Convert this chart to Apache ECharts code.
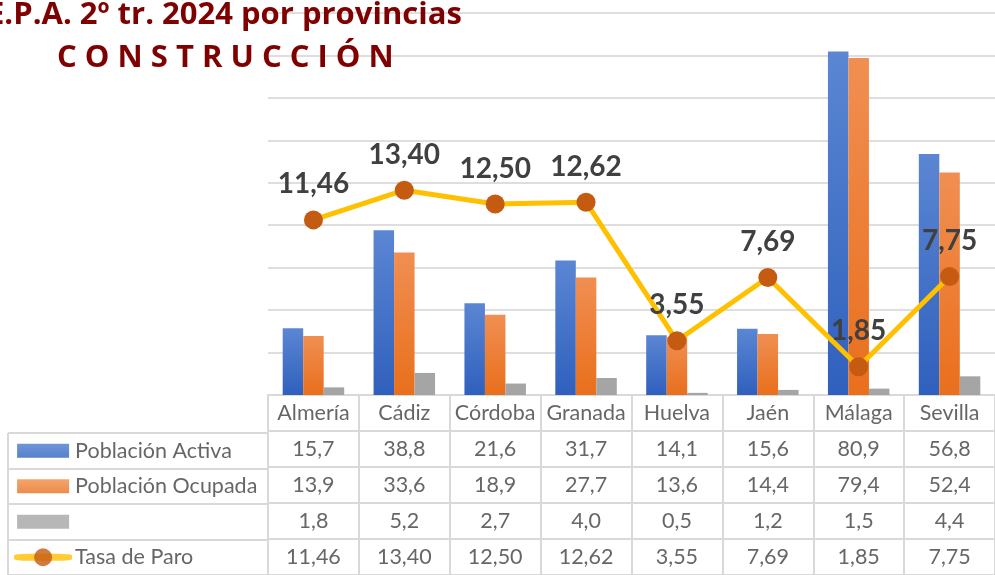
<!DOCTYPE html>
<html>
<head>
<meta charset="utf-8">
<script src="https://cdn.jsdelivr.net/npm/echarts@6/dist/echarts.min.js"></script>
<style>
  * { margin: 0; padding: 0; }
  html, body { background: #fff; }
  #chart-container { width: 995px; height: 575px; overflow: hidden; }
</style>
</head>
<body>
<div id="chart-container"></div>
<script>
  var categories = ['Almería', 'Cádiz', 'Córdoba', 'Granada', 'Huelva', 'Jaén', 'Málaga', 'Sevilla']
  var activa = [15.7, 38.8, 21.6, 31.7, 14.1, 15.6, 80.9, 56.8]
  var ocupada = [13.9, 33.6, 18.9, 27.7, 13.6, 14.4, 79.4, 52.4]
  var parados = [1.8, 5.2, 2.7, 4.0, 0.5, 1.2, 1.5, 4.4]
  var tasa = [11.46, 13.40, 12.50, 12.62, 3.55, 7.69, 1.85, 7.75]
  var rowNames = ['Población Activa', 'Población Ocupada', '', 'Tasa de Paro']

  var font = 'Lato'
  var textColor = '#404040'
  var lineColor = '#d9d9d9'

  function fmt(v, d) {
    return v.toFixed(d).replace('.', ',')
  }

  function grad(top, bottom) {
    return new echarts.graphic.LinearGradient(0, 0, 0, 1, [
      { offset: 0, color: top },
      { offset: 1, color: bottom },
    ])
  }

  // table cells
  var cells = []
  categories.forEach(function (c, i) {
    cells.push({ value: [i, 0.5], name: c })
    cells.push({ value: [i, 1.5], name: fmt(activa[i], 1) })
    cells.push({ value: [i, 2.5], name: fmt(ocupada[i], 1) })
    cells.push({ value: [i, 3.5], name: fmt(parados[i], 1) })
    cells.push({ value: [i, 4.5], name: fmt(tasa[i], 2) })
  })

  var iconX = 0.135
  var legendBoxes = [
    { value: [iconX, 0.5], name: rowNames[0], itemStyle: { color: grad('#4a7bd0', '#2f62bf') } },
    { value: [iconX, 1.5], name: rowNames[1], itemStyle: { color: grad('#f38c46', '#e8701f') } },
    { value: [iconX, 2.5], name: rowNames[2], itemStyle: { color: '#a5a5a5' } },
  ]

  var myChart = echarts.init(document.getElementById('chart-container'), null, { renderer: 'canvas' })

  var option = {
    animation: false,
    title: [
      {
        text: 'E.P.A. 2º tr. 2024 por provincias',
        left: -13,
        top: 0,
        padding: 0,
        textStyle: { fontFamily: 'Open Sans', fontWeight: 'bold', fontSize: 31, color: '#7f0000' },
      },
      {
        text: 'C O N S T R U C C I Ó N',
        left: 57,
        top: 43,
        padding: 0,
        textStyle: { fontFamily: 'Open Sans', fontWeight: 'bold', fontSize: 31, color: '#7f0000' },
      },
    ],
    grid: [
      { left: 268, right: -7, top: 13, height: 382 },
      { left: 268, right: -7, top: 395, height: 190 },
      { left: 8, width: 260, top: 433, height: 152 },
    ],
    xAxis: [
      {
        type: 'category',
        gridIndex: 0,
        data: categories,
        axisLine: { lineStyle: { color: lineColor, width: 2 } },
        axisTick: { show: false },
        axisLabel: { show: false },
      },
      {
        type: 'category',
        gridIndex: 1,
        data: categories,
        axisLine: { show: false },
        axisTick: { show: false },
        axisLabel: { show: false },
        splitLine: { show: true, lineStyle: { color: lineColor, width: 2 } },
      },
      {
        type: 'value',
        gridIndex: 2,
        min: 0,
        max: 1,
        interval: 1,
        axisLine: { show: false },
        axisTick: { show: false },
        axisLabel: { show: false },
        splitLine: { show: true, lineStyle: { color: lineColor, width: 2 } },
      },
    ],
    yAxis: [
      {
        type: 'value',
        gridIndex: 0,
        min: 0,
        max: 90,
        interval: 10,
        axisLine: { show: false },
        axisTick: { show: false },
        axisLabel: { show: false },
        splitLine: { lineStyle: { color: '#dedede', width: 2 } },
      },
      {
        type: 'value',
        gridIndex: 0,
        min: 0,
        max: 25,
        show: false,
        splitLine: { show: false },
      },
      {
        type: 'value',
        gridIndex: 1,
        min: 0,
        max: 5,
        interval: 1,
        inverse: true,
        axisLine: { show: false },
        axisTick: { show: false },
        axisLabel: { show: false },
        splitLine: { lineStyle: { color: lineColor, width: 2 } },
      },
      {
        type: 'value',
        gridIndex: 2,
        min: 0,
        max: 4,
        interval: 1,
        inverse: true,
        axisLine: { show: false },
        axisTick: { show: false },
        axisLabel: { show: false },
        splitLine: { lineStyle: { color: lineColor, width: 2 } },
      },
    ],
    series: [
      {
        name: rowNames[0],
        type: 'bar',
        data: activa,
        barWidth: 20.5,
        barGap: '0%',
        itemStyle: { color: grad('#5b86d3', '#2f60bd') },
      },
      {
        name: rowNames[1],
        type: 'bar',
        data: ocupada,
        barWidth: 20.5,
        barGap: '0%',
        itemStyle: { color: grad('#f08f52', '#e96f1c') },
      },
      {
        name: 'Parados',
        type: 'bar',
        data: parados,
        barWidth: 20.5,
        barGap: '0%',
        itemStyle: { color: '#a5a5a5' },
      },
      {
        name: rowNames[3],
        type: 'line',
        yAxisIndex: 1,
        data: tasa,
        z: 5,
        symbol: 'circle',
        symbolSize: 19,
        lineStyle: { color: '#ffc000', width: 5 },
        itemStyle: { color: '#c55a11' },
        label: {
          show: true,
          position: 'top',
          distance: 12,
          formatter: function (p) { return fmt(p.value, 2) },
          fontFamily: font,
          fontWeight: 'bold',
          fontSize: 28,
          color: textColor,
        },
      },
      {
        name: 'tabla',
        type: 'scatter',
        xAxisIndex: 1,
        yAxisIndex: 2,
        data: cells,
        symbolSize: 1,
        itemStyle: { color: 'transparent' },
        silent: true,
        label: {
          show: true,
          position: 'inside',
          formatter: '{b}',
          fontFamily: font,
          fontSize: 21.5,
          color: textColor,
        },
      },
      {
        name: 'leyenda',
        type: 'scatter',
        xAxisIndex: 2,
        yAxisIndex: 3,
        data: legendBoxes,
        symbol: 'rect',
        symbolSize: [52, 14],
        silent: true,
        label: {
          show: true,
          position: 'right',
          distance: 6,
          formatter: '{b}',
          fontFamily: font,
          fontSize: 21.5,
          color: textColor,
        },
      },
      {
        name: 'leyendaLinea',
        type: 'scatter',
        xAxisIndex: 2,
        yAxisIndex: 3,
        data: [{ value: [iconX, 3.5], name: rowNames[3] }],
        symbol: 'roundRect',
        symbolSize: [58, 7],
        itemStyle: { color: '#ffc000' },
        silent: true,
        label: {
          show: true,
          position: 'right',
          distance: 3,
          formatter: '{b}',
          fontFamily: font,
          fontSize: 21.5,
          color: textColor,
        },
      },
      {
        name: 'leyendaPunto',
        type: 'scatter',
        xAxisIndex: 2,
        yAxisIndex: 3,
        data: [[iconX, 3.5]],
        symbol: 'circle',
        symbolSize: 18,
        z: 3,
        itemStyle: { color: '#c55a11' },
        silent: true,
      },
    ],
  }

  myChart.setOption(option)
  window.addEventListener('resize', myChart.resize)
</script>
</body>
</html>
